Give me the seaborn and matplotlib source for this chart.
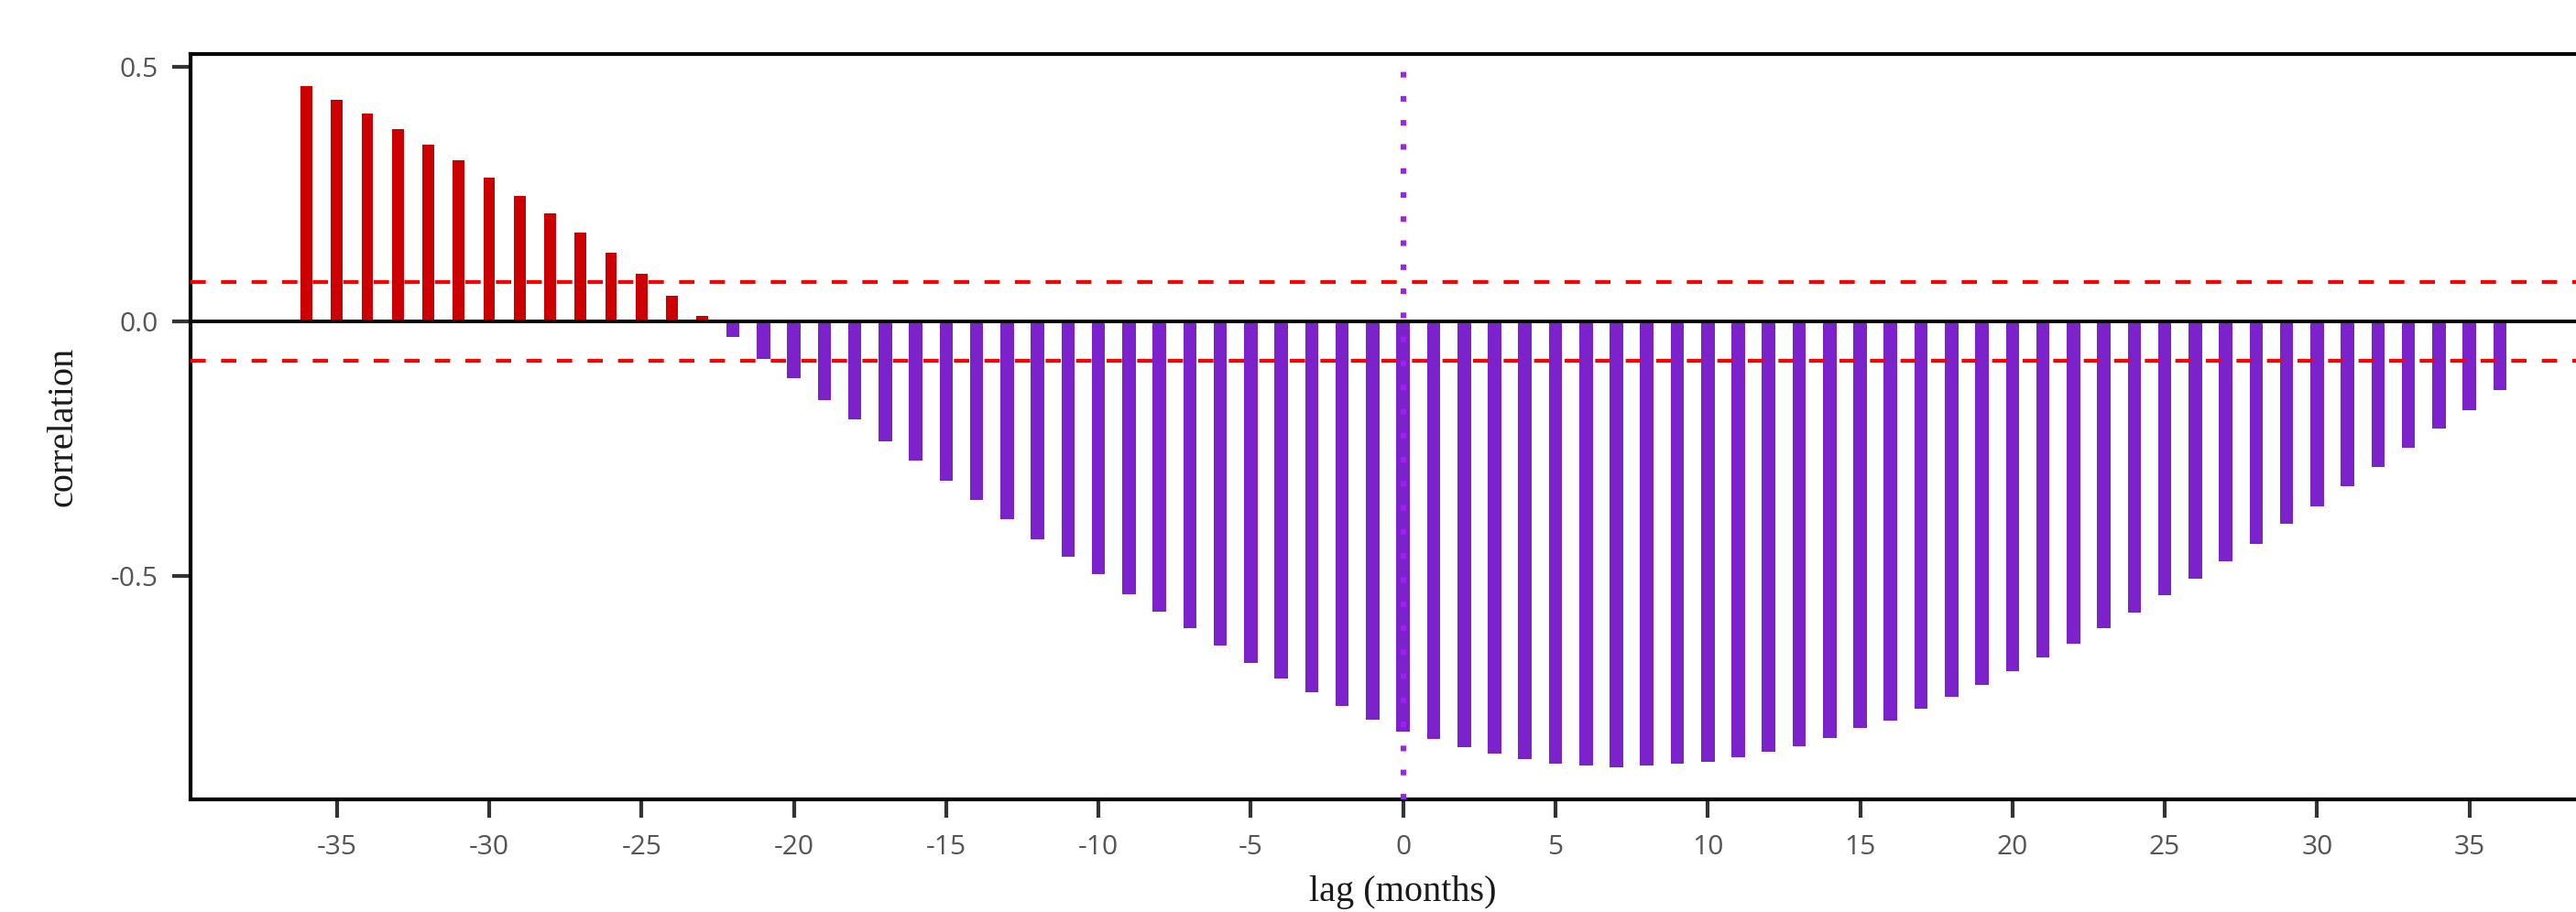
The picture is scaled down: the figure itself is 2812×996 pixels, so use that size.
import numpy as np
import pandas as pd
import seaborn as sns
import matplotlib
matplotlib.use("Agg")
import matplotlib.pyplot as plt

# lag in months and cross-correlation
lags = list(range(-36, 37))
correlation = [
    0.463, 0.436, 0.409, 0.378, 0.347, 0.316, 0.282, 0.247, 0.212, 0.174,
    0.135, 0.093, 0.050, 0.011, -0.030, -0.074, -0.111, -0.155, -0.193, -0.236,
    -0.274, -0.313, -0.352, -0.390, -0.428, -0.463, -0.498, -0.536, -0.571, -0.603,
    -0.637, -0.672, -0.703, -0.730, -0.757, -0.784, -0.807, -0.822, -0.838, -0.850,
    -0.861, -0.869, -0.873, -0.877, -0.873, -0.869, -0.866, -0.858, -0.846, -0.835,
    -0.820, -0.800, -0.785, -0.761, -0.738, -0.715, -0.688, -0.661, -0.634, -0.603,
    -0.572, -0.538, -0.507, -0.472, -0.437, -0.398, -0.364, -0.325, -0.286, -0.248,
    -0.210, -0.175, -0.136,
]
conf_limit = 0.077
x_ticks = [-35, -30, -25, -20, -15, -10, -5, 0, 5, 10, 15, 20, 25, 30, 35]
y_ticks = [-0.5, 0.0, 0.5]
y_tick_labels = ["-0.5", "0.0", "0.5"]

df = pd.DataFrame({"lag": lags, "corr": correlation})
pos = df[df["corr"] > 0]
neg = df[df["corr"] <= 0]

sns.set_style("ticks")
plt.rcParams["font.family"] = ["Open Sans", "DejaVu Sans"]

fig = plt.figure(figsize=(14.06, 4.98), dpi=200)
ax = fig.add_axes([0.074, 0.123, 0.9414, 0.818])

sns.barplot(data=pos, x="lag", y="corr", native_scale=True, width=0.38,
            color="#CC0000", saturation=1, errorbar=None, linewidth=0, ax=ax)
sns.barplot(data=neg, x="lag", y="corr", native_scale=True, width=0.44,
            color="#7B22CB", saturation=1, errorbar=None, linewidth=0, ax=ax)

ax.axhline(0, color="black", lw=1.4, zorder=4)
for yv in (conf_limit, -conf_limit):
    ax.axhline(yv, color="#FF0000", lw=1.5, linestyle=(0, (4, 4)), zorder=4)
ax.axvline(0, color="#A020F0", lw=2.2, linestyle=(0, (1, 3.3)),
           dash_capstyle="butt", zorder=5)

ax.set_xlim(-39.8, 39.8)
ax.set_ylim(-0.941, 0.526)
ax.set_xticks(x_ticks)
ax.set_xticklabels([str(t) for t in x_ticks])
ax.set_yticks(y_ticks)
ax.set_yticklabels(y_tick_labels)

for side in ("top", "left", "bottom"):
    ax.spines[side].set_visible(True)
    ax.spines[side].set_linewidth(1.5)
    ax.spines[side].set_color("black")
ax.spines["right"].set_visible(False)

ax.tick_params(axis="both", direction="out", length=7.2, width=1.5,
               color="#333333", labelcolor="#555555", labelsize=10.8)
ax.tick_params(axis="x", pad=6.2)
ax.tick_params(axis="y", pad=5.4)

ax.set_xlabel("lag (months)", family="Liberation Serif", fontsize=14.5,
              color="#1a1a1a", labelpad=6)
ax.set_ylabel("correlation", family="Liberation Serif", fontsize=14.5,
              color="#1a1a1a", labelpad=12)

fig.savefig("out.png", dpi=200)
